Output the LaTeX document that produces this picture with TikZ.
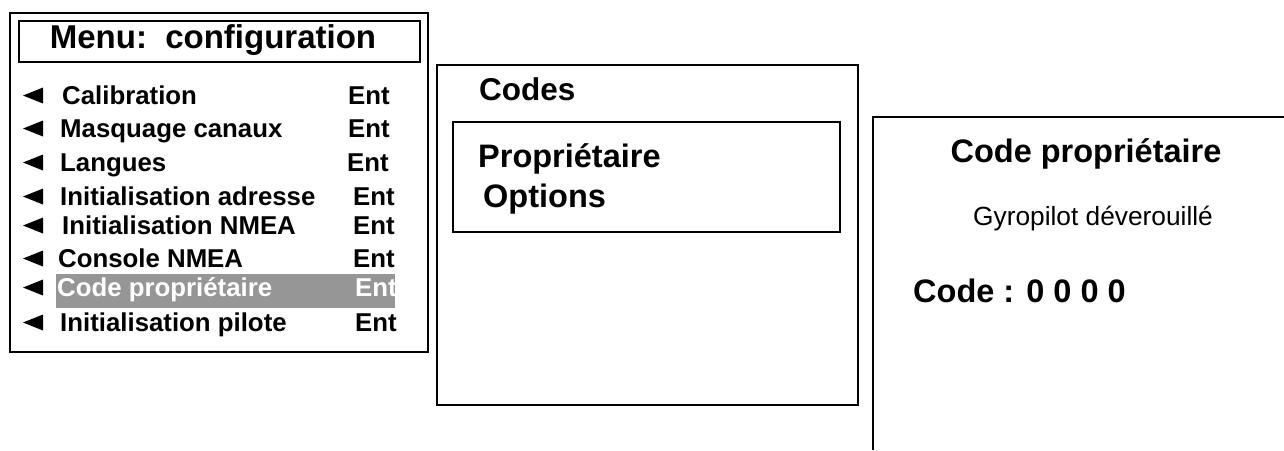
\documentclass[tikz,border=0pt]{standalone}
\usepackage{fontspec}
\setmainfont{Liberation Sans}
\definecolor{hlgray}{RGB}{150,150,150}
\tikzset{
  frame/.style={draw=black, line width=2pt},
  innerframe/.style={draw=black, line width=1.4pt},
  lbl/.style={inner sep=0pt, anchor=base west, font=\bfseries\fontsize{25.8}{30}\selectfont},
  big/.style={inner sep=0pt, anchor=base west, font=\bfseries\fontsize{32.5}{38}\selectfont},
  tri/.style={fill=black, draw=none},
}
\begin{document}
\begin{tikzpicture}[x=1pt, y=-1pt]
\useasboundingbox (0,0) rectangle (1284,450);
% ---- left panel
\draw[frame] (10,13) rectangle (428,352);
\draw[innerframe] (19,21) rectangle (420,62);
\node[big, font=\bfseries\fontsize{33}{38}\selectfont, anchor=base] (title) at (213,48) {Menu:\ \ configuration};
\fill[hlgray] (56,274) rectangle (395,308);
\foreach \i/\txt/\tx/\ex/\bl/\col in {
  1/Calibration/62/348/104/black,
  2/Masquage canaux/60/348/137/black,
  3/Langues/60/347/171/black,
  4/Initialisation adresse/60/353/205/black,
  5/Initialisation NMEA/62/353/234/black,
  6/Console NMEA/58/353/267/black,
  7/Code propriétaire/57/355/296/white,
  8/Initialisation pilote/60/355/331/black}{
  \fill[tri] (23,\bl-8.5) -- (43,\bl-16.5) -- (43,\bl-0.5) -- cycle;
  \node[lbl, text=\col] (item\i) at (\tx,\bl) {\txt};
  \node[lbl, text=\col] (ent\i) at (\ex,\bl) {Ent};
}
% ---- middle panel
\draw[frame] (437,65) rectangle (858,405);
\draw[innerframe] (453,122) rectangle (840,232);
\node[big, font=\bfseries\fontsize{31.5}{37}\selectfont] (codes) at (479,100) {Codes};
\node[big] (prop) at (478,167) {Propriétaire};
\node[big] (opts) at (483,207) {Options};
% ---- right panel
\draw[frame] (873,450) -- (873,117) -- (1284,117);
\node[big, anchor=base] (cptitle) at (1086,162) {Code propriétaire};
\node[inner sep=0pt, anchor=base, font=\fontsize{26.3}{30}\selectfont] (gyro) at (1093,225) {Gyropilot déverouillé};
\node[big] (code) at (913,302) {Code : 0 0 0 0};
\end{tikzpicture}
\end{document}
